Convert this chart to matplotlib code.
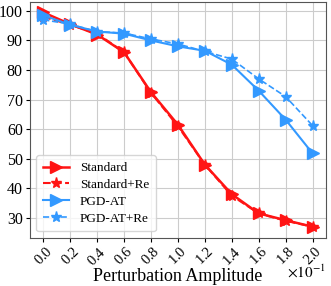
import matplotlib
matplotlib.use("Agg")
import matplotlib.pyplot as plt

plt.rcParams['font.family'] = ['Liberation Serif', 'DejaVu Serif']
plt.rcParams['mathtext.fontset'] = 'stix'

# perturbation amplitude (actual values, shown as x10^-1)
amp = [0.00, 0.02, 0.04, 0.06, 0.08, 0.10, 0.12, 0.14, 0.16, 0.18, 0.20]

standard = [99.5, 95.5, 92.0, 86.0, 72.5, 61.5, 48.0, 38.0, 31.5, 29.2, 27.0]
standard_re = [98.0, 95.3, 92.3, 86.0, 72.3, 61.0, 48.0, 37.5, 31.5, 29.0, 27.0]
pgd_at = [98.5, 95.3, 93.0, 92.3, 90.0, 88.0, 86.5, 81.8, 73.0, 63.2, 51.8]
pgd_at_re = [97.0, 95.5, 93.0, 92.5, 90.5, 88.8, 86.3, 83.7, 77.0, 71.0, 61.2]

red = '#ff1414'
blue = '#3399ff'

fig, ax = plt.subplots(figsize=(3.31, 2.86), dpi=100)
fig.subplots_adjust(left=0.09, right=0.985, top=0.993, bottom=0.168)

ax.plot(amp, standard, color=red, marker='>', markersize=8, lw=1.8, label='Standard')
ax.plot(amp, standard_re, color=red, marker='*', markersize=8, lw=1.5, ls='--', label='Standard+Re')
ax.plot(amp, pgd_at, color=blue, marker='>', markersize=8, lw=1.5, label='PGD-AT')
ax.plot(amp, pgd_at_re, color=blue, marker='*', markersize=8, lw=1.2, ls='--', label='PGD-AT+Re')

ax.set_xticks(amp)
ax.ticklabel_format(axis='x', style='sci', scilimits=(0, 0), useMathText=True)
ax.xaxis.get_offset_text().set_visible(False)
ax.text(1.0, -0.11, r'$\times10^{-1}$', transform=ax.transAxes,
        ha='right', va='top', fontsize=11)
ax.set_ylim(23.2, 103)
ax.set_yticks([30, 40, 50, 60, 70, 80, 90, 100])
ax.tick_params(axis='y', labelsize=11.5, length=3, pad=2)
ax.tick_params(axis='x', labelsize=10.5, length=3, pad=1.5, labelrotation=45)
ax.grid(True, color='#cccccc', lw=0.8)
ax.set_axisbelow(True)
for s in ax.spines.values():
    s.set_color('#555555')

ax.set_xlabel('Perturbation Amplitude', fontsize=13, labelpad=0)
ax.legend(loc='lower left', fontsize=9.5, handlelength=2.0, borderpad=0.5,
          labelspacing=0.35)

fig.savefig('out.png', dpi=100)
